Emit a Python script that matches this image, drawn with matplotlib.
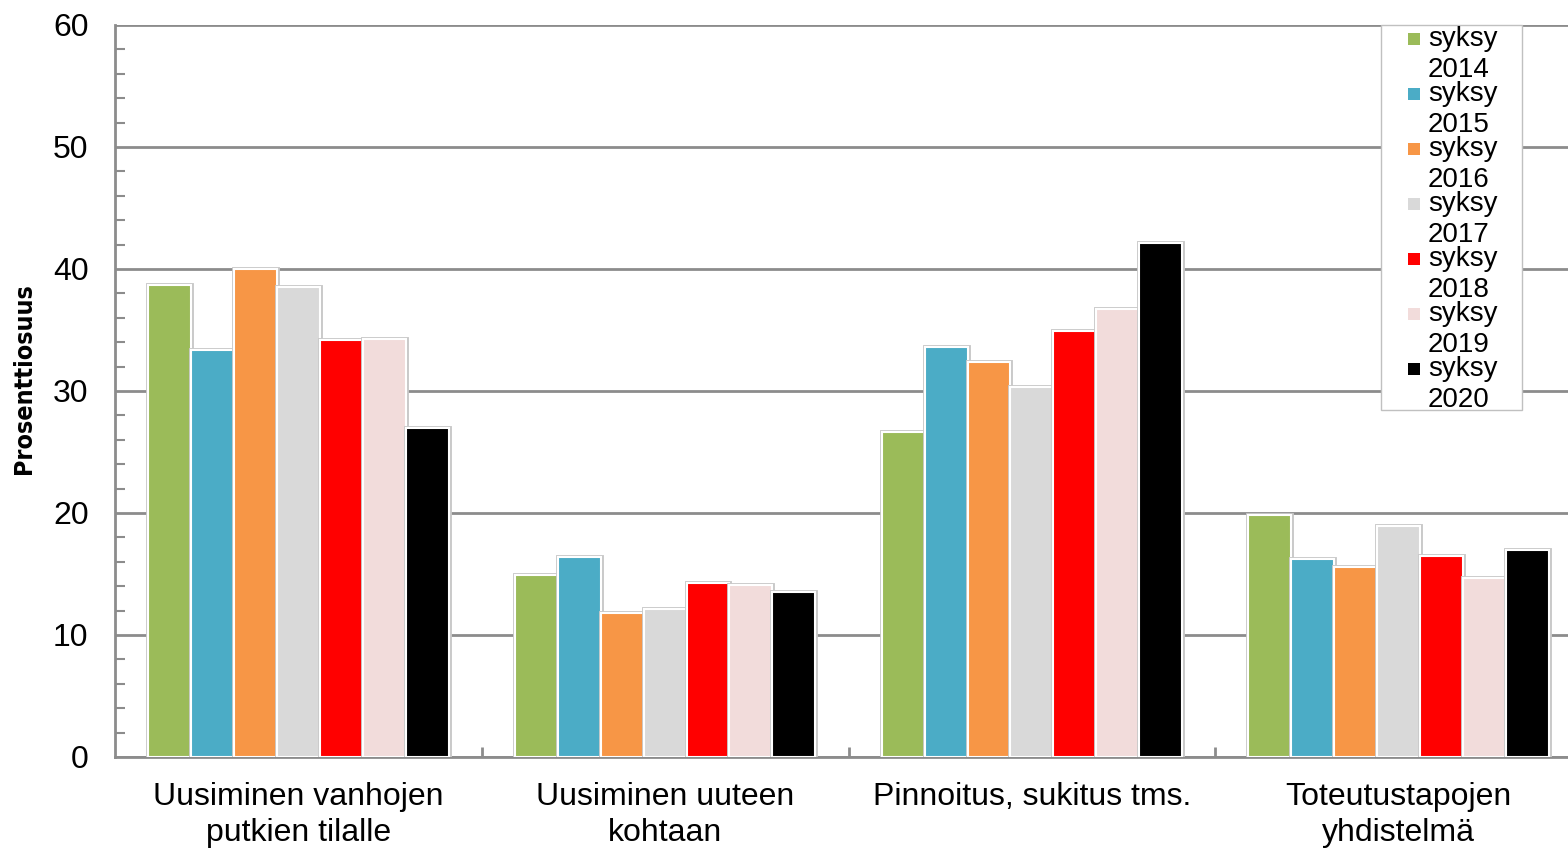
import matplotlib
matplotlib.use("Agg")
import matplotlib.pyplot as plt
from matplotlib.patches import Rectangle
from matplotlib.ticker import MultipleLocator, FixedLocator
import matplotlib.patheffects as pe
import numpy as np

categories = ["Uusiminen vanhojen\nputkien tilalle", "Uusiminen uuteen\nkohtaan",
              "Pinnoitus, sukitus tms.", "Toteutustapojen\nyhdistelmä"]
series_labels = ["syksy 2014", "syksy 2015", "syksy 2016", "syksy 2017",
                 "syksy 2018", "syksy 2019", "syksy 2020"]
colors = ["#9BBB59", "#4BACC6", "#F79646", "#D9D9D9", "#FF0000", "#F2DCDB", "#000000"]
values = [
    [38.7, 14.9, 26.6, 19.8],   # 2014
    [33.4, 16.4, 33.6, 16.2],   # 2015
    [40.0, 11.8, 32.4, 15.6],   # 2016
    [38.5, 12.1, 30.3, 18.9],   # 2017
    [34.2, 14.3, 34.9, 16.5],   # 2018
    [34.3, 14.1, 36.7, 14.7],   # 2019
    [27.0, 13.5, 42.1, 17.0],   # 2020
]
yticks = [0, 10, 20, 30, 40, 50, 60]
ylabel = "Prosenttiosuus"

plt.rcParams['font.family'] = ['Liberation Sans', 'DejaVu Sans']

W, H = 1568, 849
fig = plt.figure(figsize=(W / 100, H / 100), dpi=100)
ax = fig.add_axes([115 / W, 1 - 757 / H, (1582 - 115) / W, (757 - 25) / H])

x = np.arange(len(categories))
n = len(series_labels)
bw = 0.117
for i, (lab, col, vals) in enumerate(zip(series_labels, colors, values)):
    ax.bar(x + (i - (n - 1) / 2) * bw, vals, width=bw, color=col, edgecolor="white",
           linewidth=1.5, zorder=3,
           path_effects=[pe.withStroke(linewidth=3.5, foreground="#C8C8C8")])

ax.set_xlim(-0.5, len(categories) - 0.5)
ax.set_ylim(0, 60)
ax.set_yticks(yticks)
ax.yaxis.set_minor_locator(MultipleLocator(2))
ax.grid(axis="y", which="major", color="#8C8C8C", linewidth=2, zorder=1)
ax.set_axisbelow(True)

ax.set_xticks(x)
ax.set_xticklabels(categories, fontsize=23, linespacing=1.25)
ax.xaxis.set_minor_locator(FixedLocator(np.arange(0.5, len(categories) - 0.5, 1)))
ax.tick_params(axis="x", which="major", length=0, pad=18)
ax.tick_params(axis="x", which="minor", direction="in", length=7, width=2, color="#8C8C8C")
ax.tick_params(axis="y", which="major", length=0, pad=19, labelsize=23)
ax.tick_params(axis="y", which="minor", direction="in", length=7, width=1.5, color="#8C8C8C")

for s in ["top", "right"]:
    ax.spines[s].set_visible(False)
for s in ["left", "bottom"]:
    ax.spines[s].set_color("#8C8C8C")
    ax.spines[s].set_linewidth(2)

fig.text(24 / W, 1 - 379 / H, ylabel, rotation=90, ha="center", va="center",
         fontsize=18, fontweight="bold", fontstretch="condensed", family="DejaVu Sans")

# legend
box = Rectangle((1381 / W, 1 - 410 / H), (1522 - 1381) / W, (410 - 25) / H,
                transform=fig.transFigure, facecolor="white", edgecolor="#C0C0C0",
                linewidth=1, zorder=10)
fig.patches.append(box)
for i, (lab, col) in enumerate(zip(series_labels, colors)):
    yc = 39 + 55 * i
    fig.patches.append(Rectangle((1408 / W, 1 - (yc + 6) / H), 12 / W, 12 / H,
                                 transform=fig.transFigure, facecolor=col,
                                 edgecolor="none", zorder=11))
    w1, w2 = lab.split(" ")
    fig.text(1428 / W, 1 - yc / H, w1, ha="left", va="center", fontsize=20, zorder=12)
    fig.text(1428 / W, 1 - (yc + 31) / H, w2, ha="left", va="center", fontsize=20, zorder=12)

fig.savefig("out.png", dpi=100)
